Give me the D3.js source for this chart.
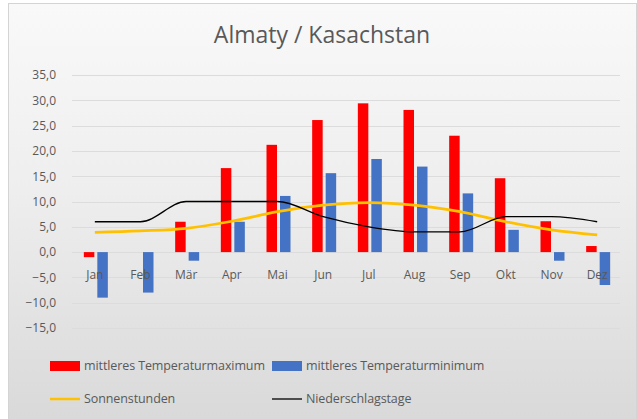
<!DOCTYPE html>
<html>
<head>
<meta charset="utf-8">
<script src="https://cdn.jsdelivr.net/npm/d3@7"></script>
<style>
  body { margin: 0; background: #fff; }
  text { font-family: "Open Sans", sans-serif; fill: #595959; }
</style>
</head>
<body>
<script>
// data
var months = ["Jan", "Feb", "Mär", "Apr", "Mai", "Jun", "Jul", "Aug", "Sep", "Okt", "Nov", "Dez"];
var tempMax = [-1.0, 0.0, 6.0, 16.6, 21.2, 26.1, 29.4, 28.1, 23.0, 14.6, 6.1, 1.2];
var tempMin = [-9.0, -8.0, -1.7, 6.0, 11.1, 15.6, 18.4, 16.9, 11.6, 4.4, -1.7, -6.5];
var sunHours = [3.9, 4.2, 4.7, 6.1, 8.0, 9.3, 9.8, 9.3, 8.0, 6.0, 4.4, 3.4];
var rainDays = [6, 6, 10, 10, 10, 7, 5, 4, 4, 7, 7, 6];
var yTicks = [-15, -10, -5, 0, 5, 10, 15, 20, 25, 30, 35];

var svgWidth = 637;
var svgHeight = 419;
var margin = { top: 75, right: 17, bottom: 91, left: 72 };
var width = svgWidth - margin.left - margin.right;
var height = svgHeight - margin.top - margin.bottom;

var svg = d3.select("body")
  .append("svg")
  .attr("width", svgWidth)
  .attr("height", svgHeight);

// background with soft gradient
var grad = svg.append("defs").append("linearGradient")
  .attr("id", "bg")
  .attr("x1", 0).attr("y1", 0).attr("x2", 0).attr("y2", 1);
grad.append("stop").attr("offset", "0%").attr("stop-color", "#f9f9f9");
grad.append("stop").attr("offset", "45%").attr("stop-color", "#eeeeee");
grad.append("stop").attr("offset", "100%").attr("stop-color", "#d9d9d9");

svg.append("rect")
  .attr("x", 8.5).attr("y", 3.5)
  .attr("width", svgWidth - 9).attr("height", svgHeight - 3)
  .attr("fill", "url(#bg)")
  .attr("stroke", "#d4d4d4");

svg.append("text")
  .attr("x", 322)
  .attr("y", 43)
  .attr("text-anchor", "middle")
  .attr("font-size", "23px")
  .text("Almaty / Kasachstan");

var chartGroup = svg.append("g")
  .attr("transform", `translate(${margin.left}, ${margin.top})`);

var x = d3.scaleBand()
  .domain(months)
  .range([0, width]);

var y = d3.scaleLinear()
  .domain([-15, 35])
  .range([height, 0]);

// gridlines
chartGroup.selectAll(".grid")
  .data(yTicks)
  .enter()
  .append("line")
  .attr("x1", 0)
  .attr("x2", width)
  .attr("y1", d => Math.round(y(d)) + 0.5)
  .attr("y2", d => Math.round(y(d)) + 0.5)
  .attr("stroke", "#dcdcdc")
  .attr("stroke-width", 1);

// y axis labels
var fmt = d3.format(".1f");
var leftAxis = d3.axisLeft(y)
  .tickValues(yTicks)
  .tickSize(0)
  .tickPadding(16)
  .tickFormat(d => fmt(d).replace(".", ","));

chartGroup.append("g")
  .call(leftAxis)
  .call(g => g.select(".domain").remove())
  .selectAll("text")
  .attr("font-size", "12px")
  .attr("font-family", "Open Sans, sans-serif")
  .attr("fill", "#595959");

var barW = 10.5;

// bars
chartGroup.selectAll(".maxBar")
  .data(tempMax)
  .enter()
  .append("rect")
  .attr("x", (d, i) => x(months[i]) + x.bandwidth() / 2 - barW - 0.5)
  .attr("y", d => y(Math.max(0, d)))
  .attr("width", barW)
  .attr("height", d => Math.abs(y(d) - y(0)))
  .attr("fill", "#ff0000");

chartGroup.selectAll(".minBar")
  .data(tempMin)
  .enter()
  .append("rect")
  .attr("x", (d, i) => x(months[i]) + x.bandwidth() / 2 + 2.5)
  .attr("y", d => y(Math.max(0, d)))
  .attr("width", barW)
  .attr("height", d => Math.abs(y(d) - y(0)))
  .attr("fill", "#4472c4");

// month labels sit just under the zero line
chartGroup.selectAll(".month")
  .data(months)
  .enter()
  .append("text")
  .attr("x", d => x(d) + x.bandwidth() / 2)
  .attr("y", y(0) + 27)
  .attr("text-anchor", "middle")
  .attr("font-size", "12px")
  .text(d => d);

// lines
var sunLine = d3.line()
  .x((d, i) => x(months[i]) + x.bandwidth() / 2)
  .y(d => y(d))
  .curve(d3.curveCatmullRom);

chartGroup.append("path")
  .datum(sunHours)
  .attr("d", sunLine)
  .attr("fill", "none")
  .attr("stroke", "#ffc000")
  .attr("stroke-width", 2.75);

var rainLine = d3.line()
  .x((d, i) => x(months[i]) + x.bandwidth() / 2)
  .y(d => y(d))
  .curve(d3.curveMonotoneX);

chartGroup.append("path")
  .datum(rainDays)
  .attr("d", rainLine)
  .attr("fill", "none")
  .attr("stroke", "#000")
  .attr("stroke-width", 1.3);

// legend
var legend = svg.append("g");
var items = [
  { label: "mittleres Temperaturmaximum", color: "#ff0000", type: "bar", x: 50, y: 366 },
  { label: "mittleres Temperaturminimum", color: "#4472c4", type: "bar", x: 272, y: 366 },
  { label: "Sonnenstunden", color: "#ffc000", type: "line", x: 50, y: 399 },
  { label: "Niederschlagstage", color: "#000", type: "line", x: 272, y: 399 }
];

items.forEach(function(it) {
  if (it.type === "bar") {
    legend.append("rect")
      .attr("x", it.x).attr("y", it.y - 5)
      .attr("width", 30).attr("height", 10)
      .attr("fill", it.color);
  } else {
    legend.append("line")
      .attr("x1", it.x).attr("x2", it.x + 30)
      .attr("y1", it.y).attr("y2", it.y)
      .attr("stroke", it.color)
      .attr("stroke-width", it.color === "#000" ? 1.3 : 2.5);
  }
  legend.append("text")
    .attr("x", it.x + 34)
    .attr("y", it.y + 4)
    .attr("font-size", "12.5px")
    .attr("letter-spacing", "-0.1px")
    .text(it.label);
});
</script>
</body>
</html>
